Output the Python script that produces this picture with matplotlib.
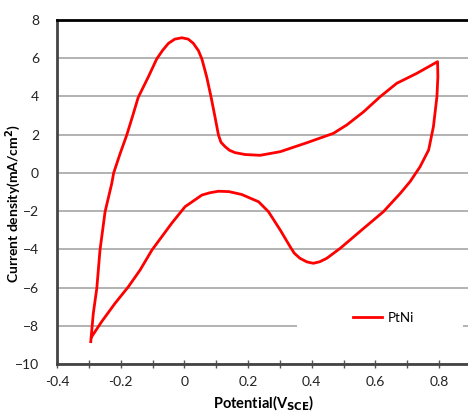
import matplotlib
matplotlib.use("Agg")
import matplotlib.pyplot as plt
from matplotlib.patches import Rectangle
from matplotlib.ticker import MultipleLocator

# CV loop: forward (anodic) sweep, then the return sweep
potential = [
    -0.294, -0.286, -0.275, -0.265, -0.249, -0.228, -0.222, -0.202, -0.181, -0.163,
    -0.145, -0.113, -0.087, -0.068, -0.050, -0.030, -0.008, 0.012, 0.028, 0.044,
    0.055, 0.070, 0.084, 0.096, 0.107, 0.115, 0.128, 0.142, 0.159, 0.191,
    0.238, 0.301, 0.385, 0.468, 0.510, 0.563, 0.615, 0.667, 0.730, 0.795,
    0.796, 0.793, 0.782, 0.767, 0.740, 0.709, 0.678, 0.625, 0.563, 0.489,
    0.447, 0.425, 0.405, 0.385, 0.363, 0.345, 0.332, 0.301, 0.264, 0.233,
    0.180, 0.140, 0.107, 0.080, 0.055, 0.002, -0.040, -0.102, -0.139, -0.176,
    -0.218, -0.260, -0.291,
]
current = [
    -8.83, -7.35, -6.04, -4.04, -2.03, -0.55, 0.00, 1.00, 1.98, 2.95,
    3.95, 5.03, 5.96, 6.42, 6.78, 7.00, 7.07, 7.00, 6.78, 6.40,
    5.96, 5.03, 3.95, 2.94, 1.98, 1.60, 1.37, 1.18, 1.06, 0.96,
    0.92, 1.11, 1.58, 2.07, 2.51, 3.20, 3.99, 4.69, 5.21, 5.82,
    5.03, 3.99, 2.42, 1.20, 0.32, -0.45, -1.07, -2.03, -2.90, -3.95,
    -4.47, -4.65, -4.73, -4.66, -4.47, -4.20, -3.86, -2.99, -2.03, -1.51,
    -1.13, -0.98, -0.96, -1.04, -1.16, -1.77, -2.64, -4.04, -5.08, -5.96,
    -6.83, -7.79, -8.57,
]
series_name = "PtNi"

plt.rcParams["font.family"] = ["Lato", "DejaVu Sans"]

fig = plt.figure(figsize=(4.68, 4.12), dpi=100)
ax = fig.add_axes([57 / 468, 48 / 412, 414 / 468, 344 / 412])

ax.plot(potential, current, color="#ff0000", lw=2, label=series_name,
        solid_joinstyle="round", zorder=3)

ax.set_xlim(-0.4, 0.9)
ax.set_ylim(-10, 8)
ax.xaxis.set_minor_locator(MultipleLocator(0.1))
ax.set_yticks(range(-10, 9, 2))
ax.set_xticks([-0.4, -0.2, 0, 0.2, 0.4, 0.6, 0.8])
ax.set_xticklabels(["-0.4", "-0.2", "0", "0.2", "0.4", "0.6", "0.8"])
ax.tick_params(axis="x", which="both", direction="inout", length=6,
               width=1, color="#555555", labelsize=10, labelcolor="#222222", pad=6)
ax.tick_params(axis="y", length=0, labelsize=10, labelcolor="#222222", pad=13)

ax.yaxis.grid(True, color="#a6a6a6", lw=1.2)
ax.set_axisbelow(True)

ax.spines["right"].set_visible(False)
ax.spines["top"].set_color("black")
ax.spines["top"].set_linewidth(2)
for s in ["left", "bottom"]:
    ax.spines[s].set_color("#444444")
    ax.spines[s].set_linewidth(2)

ax.set_xlabel(r"Potential(V$_{\mathbf{SCE}}$)", fontsize=10.5, fontweight="bold",
              labelpad=4)
ax.set_ylabel(r"Current density(mA/cm$^{\mathbf{2}}$)", fontsize=10,
              fontweight="bold")
ax.yaxis.set_label_coords(-0.082, 0.465)

# white area behind the legend, as in the original chart
ax.add_patch(Rectangle((0.580, 0.081), 0.401, 0.105, transform=ax.transAxes,
                       facecolor="white", edgecolor="none", zorder=1.5))
ax.legend(loc="center left", bbox_to_anchor=(0.715, 0.134), frameon=False,
          borderpad=0, borderaxespad=0, handlelength=2.2, handletextpad=0.4,
          fontsize=9.5)

fig.savefig("out.png", dpi=100)
